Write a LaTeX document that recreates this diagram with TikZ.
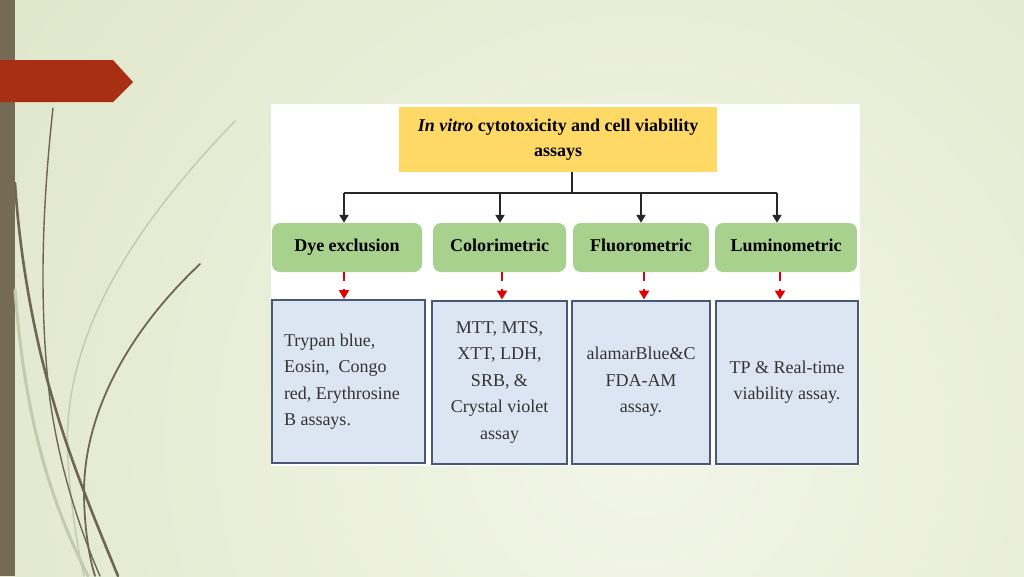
\documentclass[tikz,border=0pt]{standalone}
\usepackage{fontspec}
\setmainfont{Liberation Serif}
\usetikzlibrary{arrows.meta,calc}
\definecolor{bgout}{HTML}{DDE4C5}
\definecolor{bgin}{HTML}{F3F6E8}
\definecolor{barcol}{HTML}{756A53}
\definecolor{tagred}{HTML}{A82F14}
\definecolor{olive}{HTML}{6E6650}
\definecolor{lightolive}{HTML}{C4CAAB}
\definecolor{gold}{HTML}{FFD966}
\definecolor{greenbox}{HTML}{A9D18E}
\definecolor{bluefill}{HTML}{DCE6F2}
\definecolor{blueedge}{HTML}{4A5878}
\definecolor{arrred}{HTML}{E00000}
\definecolor{txtgrey}{HTML}{333333}
\tikzset{
  titlebox/.style={fill=gold, draw=none, minimum width=318pt, minimum height=65pt, align=center, inner sep=0pt,
    font=\fontsize{18}{25}\selectfont\bfseries},
  catbox/.style={fill=greenbox, draw=none, rounded corners=8pt, minimum height=49pt, inner sep=0pt,
    text height=12pt, text depth=4pt, font=\fontsize{18}{22}\selectfont\bfseries},
  listbox/.style={fill=bluefill, draw=blueedge, line width=2pt, minimum height=163pt, inner sep=0pt,
    text=txtgrey, font=\fontsize{18}{26.5}\selectfont},
  treearrow/.style={draw=black!85, line width=2.4pt, -{Triangle[width=9pt,length=8pt]}},
  treeline/.style={draw=black!85, line width=2.4pt},
  redarrow/.style={draw=arrred, line width=2.4pt, dash pattern=on 9pt off 8pt, -{Triangle[width=10pt,length=9pt]}},
  darkcurve/.style={draw=olive, line cap=round},
  lightcurve/.style={draw=lightolive, line cap=round},
}
\begin{document}
\begin{tikzpicture}[x=1pt,y=-1pt]
\useasboundingbox (0,0) rectangle (1024,576);
% background
\fill[bgout] (0,0) rectangle (1024,576);
\begin{scope}
\clip (0,0) rectangle (1024,576);
\shade[inner color=bgin, outer color=bgout] (640,440) circle (900);
\end{scope}
% left bar and tag
\fill[barcol] (0,0) rectangle (15,576);
\fill[tagred] (0,60) -- (113,60) -- (133,82) -- (113,102) -- (0,102) -- cycle;
% decorative curves
\draw[lightcurve, line width=3pt] (15,290) .. controls (25,420) and (50,500) .. (88,576);
\draw[lightcurve, line width=1.4pt] (235,121) .. controls (130,230) and (60,340) .. (68,460) .. controls (71,510) and (78,550) .. (84,576);
\draw[darkcurve, line width=1.4pt] (53,108) .. controls (43,200) and (38,300) .. (50,400) .. controls (60,470) and (80,530) .. (100,576);
\draw[darkcurve, line width=2.6pt] (15,183) .. controls (20,260) and (35,340) .. (53,400) .. controls (70,460) and (95,520) .. (118,576);
\draw[darkcurve, line width=1.8pt] (200,264) .. controls (130,330) and (85,410) .. (84,490) .. controls (84,530) and (90,560) .. (95,576);
% white panel
\fill[white] (271,104) rectangle (860,466);
% title
\node[titlebox] (title) at (558,139.5) {\textit{In vitro} cytotoxicity and cell viability\\assays};
% categories
\node[catbox, minimum width=150pt] (g1) at (347,247.5) {Dye exclusion};
\node[catbox, minimum width=133pt] (g2) at (499.5,247.5) {Colorimetric};
\node[catbox, minimum width=136pt] (g3) at (641,247.5) {Fluorometric};
\node[catbox, minimum width=142pt] (g4) at (786,247.5) {Luminometric};
% lists
\node[listbox, minimum width=153pt, text width=129pt, align=flush left] (l1) at (348.5,381.5)
  {Trypan blue,\\Eosin,\ \ Congo\\red, Erythrosine\\B assays.};
\node[listbox, minimum width=135pt, align=center] (l2) at (499.5,382)
  {MTT, MTS,\\XTT, LDH,\\SRB, \&\\Crystal violet\\assay};
\node[listbox, minimum width=138pt, align=center] (l3) at (641,382)
  {alamarBlue\&C\\FDA-AM\\assay.};
\node[listbox, minimum width=142pt, align=center] (l4) at (787,382)
  {TP \& Real-time\\viability assay.};
% bus coordinates
\coordinate (stem) at (572,193);
\coordinate (b1) at (344,193);
\coordinate (b2) at (500,193);
\coordinate (b3) at (641,193);
\coordinate (b4) at (777,193);
\draw[treeline] (title.south -| stem) -- (stem);
\draw[treeline] (b1) -- (b4);
\draw[treearrow] (b1) -- (b1 |- g1.north);
\draw[treearrow] (b2) -- (b2 |- g2.north);
\draw[treearrow] (b3) -- (b3 |- g3.north);
\draw[treearrow] (b4) -- (b4 |- g4.north);
% red dashed arrows
\coordinate (r1) at (344,0);
\coordinate (r2) at (502,0);
\coordinate (r3) at (644,0);
\coordinate (r4) at (780,0);
\draw[redarrow] (g1.south -| r1) -- (l1.north -| r1);
\draw[redarrow] (g2.south -| r2) -- (l2.north -| r2);
\draw[redarrow] (g3.south -| r3) -- (l3.north -| r3);
\draw[redarrow] (g4.south -| r4) -- (l4.north -| r4);
\end{tikzpicture}
\end{document}
